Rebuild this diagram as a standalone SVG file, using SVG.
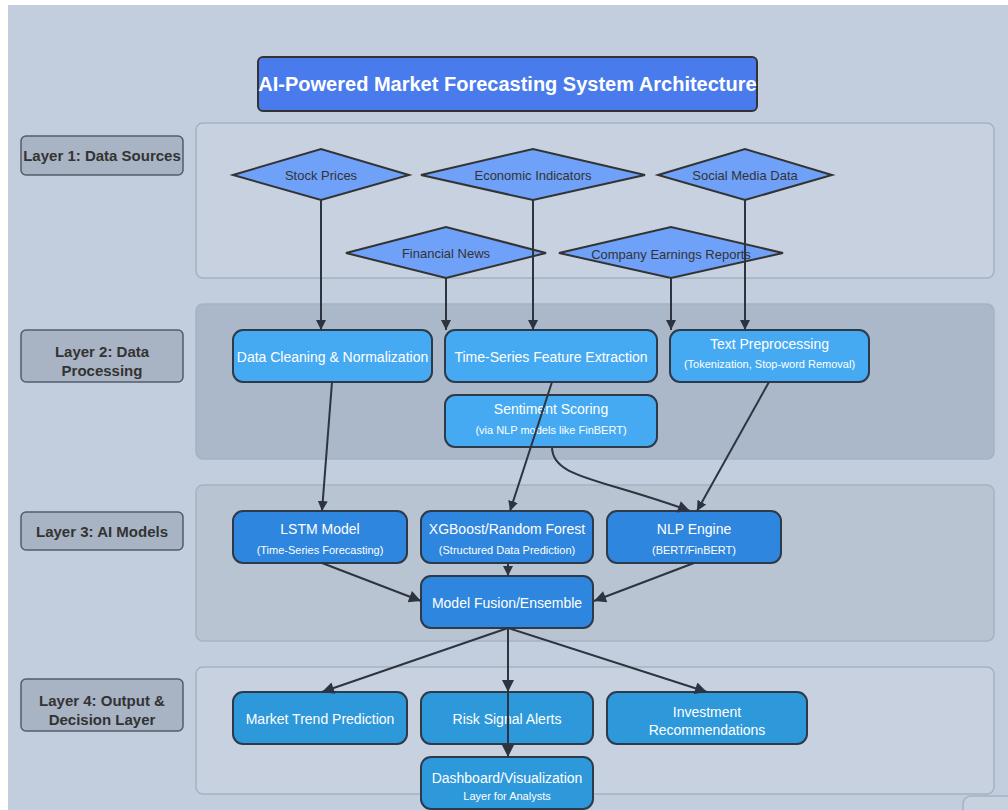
<svg xmlns="http://www.w3.org/2000/svg" width="1008" height="810" viewBox="0 0 1008 810">
<defs>
<marker id="arr" viewBox="0 0 10 10" refX="10" refY="5" markerWidth="10" markerHeight="10" markerUnits="userSpaceOnUse" orient="auto">
<path d="M0,0 L10,5 L0,10 Z" fill="#2d3440"/>
</marker>
<marker id="arrL" viewBox="0 0 10 10" refX="10" refY="5" markerWidth="14" markerHeight="12" markerUnits="userSpaceOnUse" orient="auto">
<path d="M0,0 L10,5 L0,10 Z" fill="#2d3440"/>
</marker>
</defs>
<style>
text{font-family:"Liberation Sans",Arial,sans-serif;text-anchor:middle;dominant-baseline:central}
.cont{stroke:#a6b2c3;stroke-width:1.5}
.lab rect{fill:#a8b3c4;stroke:#535c69;stroke-width:1.5}
.lab text{font-size:15px;font-weight:bold;fill:#333}
.dia polygon{fill:#6fa1f8;stroke:#333;stroke-width:2}
.dia text{font-size:13px;fill:#333}
.n rect{stroke:#2d3a4a;stroke-width:2}
.n text{fill:#fff;font-size:14px}
.n text.s{font-size:11px}
.p rect{fill:#45aaf2}
.m rect{fill:#2e86de}
.o rect{fill:#2d98da}
.edges path,.edges line{stroke:#2d3440;stroke-width:2;fill:none;marker-end:url(#arr)}
</style>
<rect x="0" y="0" width="1008" height="810" fill="#ffffff"/>
<rect x="8" y="5" width="1000" height="805" fill="#c2cedd"/>

<g id="layer1-container"><rect class="cont" x="196" y="123" width="798" height="155" rx="7" fill="#c7d1df"/></g>
<g id="layer2-container"><rect class="cont" x="196" y="304" width="798" height="155" rx="7" fill="#abb8c9"/></g>
<g id="layer3-container"><rect class="cont" x="196" y="485" width="798" height="156" rx="7" fill="#b9c4d3"/></g>
<g id="layer4-container"><rect class="cont" x="196" y="667" width="798" height="127" rx="7" fill="#c7d1df"/></g>
<g id="corner-box"><rect class="cont" x="963" y="796" width="100" height="60" rx="8" fill="#c7d1df"/></g>

<g id="title"><rect x="258" y="57" width="499" height="54" rx="5" fill="#4a7bec" stroke="#333" stroke-width="2"/><text x="507.5" y="84" font-size="20" font-weight="bold" fill="#fff">AI-Powered Market Forecasting System Architecture</text></g>

<g id="label-layer1" class="lab"><rect x="21" y="136" width="162" height="39" rx="5"/><text x="102" y="155.5">Layer 1: Data Sources</text></g>
<g id="label-layer2" class="lab"><rect x="21" y="330" width="162" height="52" rx="5"/><text x="102" y="351">Layer 2: Data</text><text x="102" y="370">Processing</text></g>
<g id="label-layer3" class="lab"><rect x="21" y="512" width="162" height="38" rx="5"/><text x="102" y="531">Layer 3: AI Models</text></g>
<g id="label-layer4" class="lab"><rect x="21" y="679" width="162" height="52" rx="5"/><text x="102" y="700">Layer 4: Output &amp;</text><text x="102" y="719">Decision Layer</text></g>

<g id="stock-prices" class="dia"><polygon points="233,175 321,149 409,175 321,200"/><text x="321" y="175">Stock Prices</text></g>
<g id="economic-indicators" class="dia"><polygon points="421,175 533,149 645,175 533,200"/><text x="533" y="175">Economic Indicators</text></g>
<g id="social-media" class="dia"><polygon points="658,175 745,149 832,175 745,200"/><text x="745" y="175">Social Media Data</text></g>
<g id="financial-news" class="dia"><polygon points="346,253 446,227 546,253 446,278"/><text x="446" y="253">Financial News</text></g>
<g id="earnings-reports" class="dia"><polygon points="559,253 671,227 783,253 671,278"/><text x="671" y="254" font-size="11.5">Company Earnings Reports</text></g>

<g id="data-cleaning" class="n p"><rect x="233" y="330" width="199" height="52" rx="10"/><text x="332.5" y="357">Data Cleaning &amp; Normalization</text></g>
<g id="feature-extraction" class="n p"><rect x="445" y="330" width="212" height="52" rx="10"/><text x="551" y="357">Time-Series Feature Extraction</text></g>
<g id="text-preprocessing" class="n p"><rect x="670" y="330" width="199" height="52" rx="10"/><text x="769.5" y="344">Text Preprocessing</text><text class="s" x="769.5" y="364">(Tokenization, Stop-word Removal)</text></g>
<g id="sentiment-scoring" class="n p"><rect x="445" y="395" width="212" height="52" rx="10"/><text x="551" y="409">Sentiment Scoring</text><text class="s" x="551" y="430">(via NLP models like FinBERT)</text></g>

<g id="lstm" class="n m"><rect x="233" y="511" width="174" height="52" rx="10"/><text x="320" y="529">LSTM Model</text><text class="s" x="320" y="550">(Time-Series Forecasting)</text></g>
<g id="xgboost" class="n m"><rect x="421" y="511" width="172" height="52" rx="10"/><text x="507" y="529">XGBoost/Random Forest</text><text class="s" x="507" y="550">(Structured Data Prediction)</text></g>
<g id="nlp-engine" class="n m"><rect x="607" y="511" width="174" height="52" rx="10"/><text x="694" y="529">NLP Engine</text><text class="s" x="694" y="550">(BERT/FinBERT)</text></g>
<g id="model-fusion" class="n m"><rect x="421" y="576" width="172" height="52" rx="10"/><text x="507" y="603">Model Fusion/Ensemble</text></g>

<g id="market-trend" class="n o"><rect x="233" y="692" width="174" height="52" rx="10"/><text x="320" y="719">Market Trend Prediction</text></g>
<g id="risk-alerts" class="n o"><rect x="421" y="692" width="172" height="52" rx="10"/><text x="507" y="719">Risk Signal Alerts</text></g>
<g id="investment" class="n o"><rect x="607" y="692" width="200" height="52" rx="10"/><text x="707" y="712">Investment</text><text x="707" y="730">Recommendations</text></g>
<g id="dashboard" class="n o"><rect x="421" y="757" width="172" height="52" rx="10"/><text x="507" y="778">Dashboard/Visualization</text><text class="s" x="507" y="796">Layer for Analysts</text></g>

<g id="connectors" class="edges">
<line x1="321" y1="200" x2="321" y2="330"/>
<line x1="446" y1="278" x2="446" y2="330"/>
<line x1="533" y1="200" x2="533" y2="330"/>
<line x1="671" y1="278" x2="671" y2="330"/>
<line x1="745" y1="200" x2="745" y2="330"/>
<line x1="332" y1="382" x2="322" y2="511"/>
<line x1="552" y1="382" x2="510" y2="511"/>
<line x1="769" y1="382" x2="697" y2="511"/>
<path d="M552,447 C552,478 600,478 690,511" style="marker-end:url(#arrL)"/>
<line x1="322" y1="563" x2="421" y2="601" style="marker-end:url(#arrL)"/>
<line x1="508" y1="563" x2="508" y2="576"/>
<line x1="694" y1="563" x2="594" y2="601" style="marker-end:url(#arrL)"/>
<line x1="508" y1="628" x2="322" y2="692" style="marker-end:url(#arrL)"/>
<line x1="508" y1="628" x2="508" y2="692" style="marker-end:url(#arrL)"/>
<line x1="508" y1="628" x2="707" y2="692" style="marker-end:url(#arrL)"/>
<line x1="508" y1="692" x2="508" y2="757" style="marker-end:url(#arrL)"/>
</g>
</svg>
